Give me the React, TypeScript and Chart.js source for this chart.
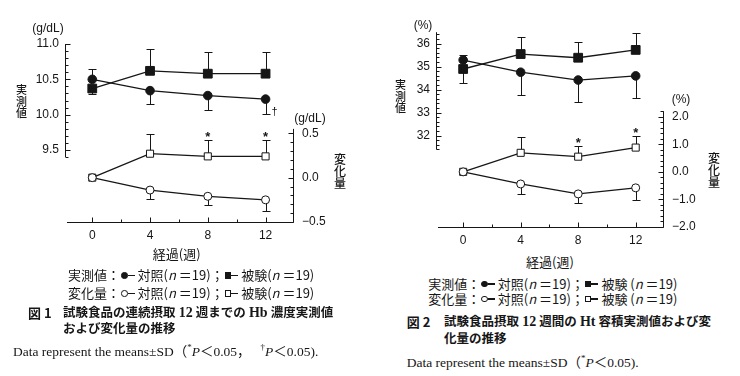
import React, { useEffect, useRef } from 'react';
import { Chart, registerables } from 'chart.js';

Chart.register(...registerables);

// ---------------- data ----------------
const weeks = [0, 4, 8, 12];
const weekTicks = [0, 4, 8, 12];
const weekMinorTicks = [2, 6, 10];

// Fig.1  Hb (g/dL)
const hbControl = [10.5, 10.34, 10.27, 10.22];
const hbControlSD = [0.14, 0.19, 0.21, 0.21];
const hbControlDir = [1, -1, -1, -1];
const hbControlMarks = ['', '', '', '†'];
const hbTest = [10.37, 10.62, 10.58, 10.58];
const hbTestSD = [0.08, 0.31, 0.3, 0.3];
const hbTestDir = [-1, 1, 1, 1];
const hbChgControl = [0, -0.14, -0.21, -0.25];
const hbChgControlSD = [0, 0.1, 0.1, 0.13];
const hbChgControlDir = [-1, -1, -1, -1];
const hbChgTest = [0, 0.27, 0.24, 0.24];
const hbChgTestSD = [0, 0.22, 0.18, 0.18];
const hbChgTestDir = [1, 1, 1, 1];
const hbChgTestMarks = ['', '', '*', '*'];
const hbLeftTicks = [9.5, 10.0, 10.5, 11.0];
const hbRightTicks = [-0.5, 0.0, 0.5];

// Fig.2  Ht (%)
const htControl = [35.29, 34.76, 34.42, 34.6];
const htControlSD = [0.22, 0.99, 0.97, 0.97];
const htControlDir = [1, -1, -1, -1];
const htTest = [34.9, 35.55, 35.39, 35.73];
const htTestSD = [0.62, 0.75, 0.67, 0.72];
const htTestDir = [-1, 1, 1, 1];
const htChgControl = [0, -0.44, -0.8, -0.58];
const htChgControlSD = [0, 0.36, 0.33, 0.43];
const htChgControlDir = [-1, -1, -1, -1];
const htChgTest = [0, 0.69, 0.55, 0.88];
const htChgTestSD = [0, 0.59, 0.38, 0.42];
const htChgTestDir = [1, 1, 1, 1];
const htChgTestMarks = ['', '', '*', '*'];
const htLeftTicks = [32, 33, 34, 35, 36];
const htRightTicks = [-2.0, -1.0, 0.0, 1.0, 2.0];

// ---------------- styles ----------------
const INK = '#161616';
const SANS = "'Liberation Sans', Arial, Helvetica, sans-serif";
const JP = "'Noto Sans CJK JP', 'Noto Sans', sans-serif";
const SERIF = "'Liberation Serif', 'Noto Sans CJK JP', serif";
const CW = 370;
const CH = 250;

type Series = {
  values: number[];
  sd: number[];
  dir: number[];
  axis: 'yL' | 'yR';
  filled: boolean;
  shape: 'circle' | 'rect';
  marks?: string[];
};

type PanelCfg = {
  offset: number;
  areaLeft: number;
  areaRight: number;
  areaTop: number;
  areaBottom: number;
  xMin: number;
  xMax: number;
  yLMin: number;
  yLMax: number;
  yRMin: number;
  yRMax: number;
  leftTicks: number[];
  rightTicks: number[];
  leftDigits: number;
  rightDigits: number;
  leftMinor: [number, number, number];
  leftEnd: number;
  rightMinor: [number, number, number];
  rightEnd: number;
};

const hbSeries: Series[] = [
  { values: hbControl, sd: hbControlSD, dir: hbControlDir, axis: 'yL', filled: true, shape: 'circle', marks: hbControlMarks },
  { values: hbTest, sd: hbTestSD, dir: hbTestDir, axis: 'yL', filled: true, shape: 'rect' },
  { values: hbChgControl, sd: hbChgControlSD, dir: hbChgControlDir, axis: 'yR', filled: false, shape: 'circle' },
  { values: hbChgTest, sd: hbChgTestSD, dir: hbChgTestDir, axis: 'yR', filled: false, shape: 'rect', marks: hbChgTestMarks },
];

const htSeries: Series[] = [
  { values: htControl, sd: htControlSD, dir: htControlDir, axis: 'yL', filled: true, shape: 'circle' },
  { values: htTest, sd: htTestSD, dir: htTestDir, axis: 'yL', filled: true, shape: 'rect' },
  { values: htChgControl, sd: htChgControlSD, dir: htChgControlDir, axis: 'yR', filled: false, shape: 'circle' },
  { values: htChgTest, sd: htChgTestSD, dir: htChgTestDir, axis: 'yR', filled: false, shape: 'rect', marks: htChgTestMarks },
];

const hbCfg: PanelCfg = {
  offset: 0,
  areaLeft: 67,
  areaRight: 293,
  areaTop: 30,
  areaBottom: 222,
  xMin: -1.75,
  xMax: 13.9,
  yLMin: 8.481,
  yLMax: 11.198,
  yRMin: -0.5,
  yRMax: 1.665,
  leftTicks: hbLeftTicks,
  rightTicks: hbRightTicks,
  leftDigits: 1,
  rightDigits: 1,
  leftMinor: [9.4, 11.0, 0.1],
  leftEnd: 11.0,
  rightMinor: [-0.5, 0.5, 0.1],
  rightEnd: 0.55,
};

const htCfg: PanelCfg = {
  offset: 370,
  areaLeft: 68,
  areaRight: 293,
  areaTop: 25,
  areaBottom: 227,
  xMin: -1.75,
  xMax: 13.9,
  yLMin: 28.03,
  yLMax: 36.813,
  yRMin: -2.0,
  yRMax: 5.325,
  leftTicks: htLeftTicks,
  rightTicks: htRightTicks,
  leftDigits: 0,
  rightDigits: 1,
  leftMinor: [31.4, 36.4, 0.2],
  leftEnd: 36.5,
  rightMinor: [-2.0, 2.2, 0.2],
  rightEnd: 2.2,
};

function fmt(v: number, digits: number) {
  const s = Math.abs(v).toFixed(digits);
  return v < -1e-9 ? '\u2212' + s : s;
}

function makeDecor(cfg: PanelCfg) {
  return {
    id: 'decor',
    beforeDatasetsDraw(chart: any) {
      const { ctx, chartArea: a, scales } = chart;
      const xs = scales.x;
      const yL = scales.yL;
      const yR = scales.yR;
      const px = (v: number) => Math.round(v) + 0.5;
      ctx.save();
      ctx.strokeStyle = INK;
      ctx.lineWidth = 1;
      ctx.beginPath();
      // left axis
      const lx = px(a.left - 2);
      ctx.moveTo(lx, yL.getPixelForValue(cfg.leftMinor[0]));
      ctx.lineTo(lx, yL.getPixelForValue(cfg.leftEnd));
      {
        const [f, t, st] = cfg.leftMinor;
        const n = Math.round((t - f) / st);
        for (let k = 0; k <= n; k++) {
          const v = f + k * st;
          const major = cfg.leftTicks.some((m) => Math.abs(m - v) < 1e-6);
          const y = px(yL.getPixelForValue(v));
          ctx.moveTo(lx, y);
          ctx.lineTo(lx + (major ? 5 : 3), y);
        }
      }
      // right axis
      const rx = px(a.right);
      ctx.moveTo(rx, yR.getPixelForValue(cfg.rightMinor[0]) + 0.5);
      ctx.lineTo(rx, yR.getPixelForValue(cfg.rightEnd));
      {
        const [f, t, st] = cfg.rightMinor;
        const n = Math.round((t - f) / st);
        for (let k = 0; k <= n; k++) {
          const v = f + k * st;
          const major = cfg.rightTicks.some((m) => Math.abs(m - v) < 1e-6);
          const y = px(yR.getPixelForValue(v));
          ctx.moveTo(rx, y);
          ctx.lineTo(rx - (major ? 5 : 3), y);
        }
      }
      // x axis
      const by = px(a.bottom);
      ctx.moveTo(a.left, by);
      ctx.lineTo(rx, by);
      weekTicks.forEach((w) => {
        const x = px(xs.getPixelForValue(w));
        ctx.moveTo(x, by);
        ctx.lineTo(x, by - 5);
      });
      weekMinorTicks.forEach((w) => {
        const x = px(xs.getPixelForValue(w));
        ctx.moveTo(x, by);
        ctx.lineTo(x, by - 3);
      });
      ctx.stroke();

      // error bars
      ctx.beginPath();
      chart.data.datasets.forEach((ds: any) => {
        const ys = scales[ds.yAxisID];
        ds.data.forEach((p: any, i: number) => {
          const sd = ds.sd[i];
          if (!sd) return;
          const x = px(xs.getPixelForValue(p.x));
          const y0 = ys.getPixelForValue(p.y);
          const y1 = px(ys.getPixelForValue(p.y + ds.dir[i] * sd));
          ctx.moveTo(x, y0);
          ctx.lineTo(x, y1);
          ctx.moveTo(x - 4, y1);
          ctx.lineTo(x + 4, y1);
        });
      });
      ctx.stroke();
      ctx.restore();
    },
    afterDatasetsDraw(chart: any) {
      const { ctx, scales } = chart;
      const xs = scales.x;
      ctx.save();
      ctx.fillStyle = INK;
      chart.data.datasets.forEach((ds: any) => {
        if (!ds.marks) return;
        const ys = scales[ds.yAxisID];
        ds.data.forEach((p: any, i: number) => {
          const m = ds.marks[i];
          if (!m) return;
          const x = xs.getPixelForValue(p.x);
          const yEnd = ys.getPixelForValue(p.y + ds.dir[i] * ds.sd[i]);
          ctx.textAlign = 'center';
          ctx.textBaseline = 'alphabetic';
          if (m === '*') {
            ctx.font = `bold 13px ${SANS}`;
            ctx.fillText(m, x, yEnd + 1);
          } else {
            ctx.font = `11px ${SANS}`;
            ctx.fillText(m, x + 9, yEnd + 1);
          }
        });
      });
      ctx.restore();
    },
  };
}

function Panel({ cfg, series }: { cfg: PanelCfg; series: Series[] }) {
  const ref = useRef<HTMLCanvasElement>(null);
  useEffect(() => {
    const font = { family: SANS, size: 12 };
    const chart = new Chart(ref.current as HTMLCanvasElement, {
      type: 'line',
      data: {
        datasets: series.map((s) => ({
          data: weeks.map((w, i) => ({ x: w, y: s.values[i] })),
          yAxisID: s.axis,
          borderColor: INK,
          borderWidth: 1.3,
          pointStyle: s.shape,
          pointRadius: s.shape === 'rect' ? (s.filled ? 6.2 : 5) : s.filled ? 4.3 : 4,
          pointBackgroundColor: s.filled ? INK : '#ffffff',
          pointBorderColor: INK,
          pointBorderWidth: 1,
          tension: 0,
          fill: false,
          sd: s.sd,
          dir: s.dir,
          marks: s.marks,
        })) as any,
      },
      options: {
        animation: false,
        responsive: false,
        events: [],
        layout: { padding: { top: cfg.areaTop, left: 0, right: 0, bottom: 0 } },
        plugins: { legend: { display: false }, tooltip: { enabled: false } },
        scales: {
          x: {
            type: 'linear',
            min: cfg.xMin,
            max: cfg.xMax,
            grid: { display: false, drawTicks: false },
            border: { display: false },
            ticks: { font, color: INK, padding: 6, callback: (v: any) => String(v) },
            afterBuildTicks: (s: any) => {
              s.ticks = weekTicks.map((v) => ({ value: v }));
            },
            afterFit: (s: any) => {
              s.height = CH - cfg.areaBottom;
            },
          },
          yL: {
            type: 'linear',
            position: 'left',
            min: cfg.yLMin,
            max: cfg.yLMax,
            grid: { display: false, drawTicks: false },
            border: { display: false },
            ticks: { font, color: INK, padding: 8, callback: (v: any) => fmt(Number(v), cfg.leftDigits) },
            afterBuildTicks: (s: any) => {
              s.ticks = cfg.leftTicks.map((v) => ({ value: v }));
            },
            afterFit: (s: any) => {
              s.width = cfg.areaLeft;
            },
          },
          yR: {
            type: 'linear',
            position: 'right',
            min: cfg.yRMin,
            max: cfg.yRMax,
            grid: { display: false, drawTicks: false },
            border: { display: false },
            ticks: { font, color: INK, padding: 9, callback: (v: any) => fmt(Number(v), cfg.rightDigits) },
            afterBuildTicks: (s: any) => {
              s.ticks = cfg.rightTicks.map((v) => ({ value: v }));
            },
            afterFit: (s: any) => {
              s.width = CW - cfg.areaRight;
            },
          },
        },
      } as any,
      plugins: [makeDecor(cfg)],
    });
    return () => chart.destroy();
  }, []);
  return (
    <canvas
      ref={ref}
      width={CW}
      height={CH}
      style={{ position: 'absolute', left: cfg.offset, top: 0, width: CW, height: CH }}
    />
  );
}

function Txt(props: {
  x: number;
  y: number;
  size: number;
  font: string;
  weight?: number;
  center?: boolean;
  children: any;
  style?: any;
}) {
  const { x, y, size, font, weight = 400, center = false, children, style } = props;
  return (
    <div
      style={{
        position: 'absolute',
        left: x,
        top: y - size * 0.6,
        fontSize: size,
        lineHeight: `${size * 1.2}px`,
        fontFamily: font,
        fontWeight: weight,
        whiteSpace: 'nowrap',
        transform: center ? 'translateX(-50%)' : undefined,
        ...style,
      }}
    >
      {children}
    </div>
  );
}

function VTxt({ x, y, size, pitch, text }: { x: number; y: number; size: number; pitch: number; text: string }) {
  return (
    <div
      style={{
        position: 'absolute',
        left: x - size / 2 - 2,
        top: y - pitch / 2,
        width: size + 4,
        fontSize: size,
        lineHeight: `${pitch}px`,
        fontFamily: JP,
        fontWeight: 500,
        textAlign: 'center',
      }}
    >
      {text.split('').map((c, i) => (
        <div key={i}>{c}</div>
      ))}
    </div>
  );
}

function Mk({ shape, filled }: { shape: 'circle' | 'rect'; filled: boolean }) {
  return (
    <span style={{ display: 'inline-flex', alignItems: 'center', verticalAlign: 'middle', margin: '0 3px 2px 1px' }}>
      <span
        style={{
          display: 'inline-block',
          width: 6.5,
          height: 6.5,
          boxSizing: 'border-box',
          borderRadius: shape === 'circle' ? '50%' : 0,
          border: `1px solid ${INK}`,
          background: filled ? INK : '#fff',
        }}
      />
      <span style={{ display: 'inline-block', width: 7, height: 1.3, background: INK }} />
    </span>
  );
}

const N = () => (
  <>
    (<i>n</i> ＝19)
  </>
);

const B = ({ children }: { children: any }) => <span style={{ fontSize: 14 }}>{children}</span>;

export default function App() {
  return (
    <div
      style={{
        position: 'fixed',
        left: 0,
        top: 0,
        width: 740,
        height: 376,
        background: '#fff',
        overflow: 'hidden',
        color: INK,
      }}
    >
      <Panel cfg={hbCfg} series={hbSeries} />
      <Panel cfg={htCfg} series={htSeries} />

      {/* Panel 1 labels */}
      <Txt x={48} y={28} size={12} font={SANS} center>(g/dL)</Txt>
      <VTxt x={21.5} y={90} size={11} pitch={11.5} text="実測値" />
      <Txt x={310} y={118} size={12} font={SANS} center>(g/dL)</Txt>
      <VTxt x={340} y={159} size={12} pitch={12} text="変化量" />
      <Txt x={176.7} y={253.3} size={13} font={JP} center>経過(週)</Txt>
      <Txt x={68} y={275} size={13} font={JP}>
        実測値：<Mk shape="circle" filled />対照<N />；<Mk shape="rect" filled />被験<N />
      </Txt>
      <Txt x={68} y={293} size={13} font={JP}>
        変化量：<Mk shape="circle" filled={false} />対照<N />；<Mk shape="rect" filled={false} />被験<N />
      </Txt>
      <Txt x={28} y={312.7} size={13} font={JP} weight={700}>図 1</Txt>
      <Txt x={63} y={312.7} size={12.5} font={SERIF} weight={700}>
        試験食品の連続摂取 <B>12</B> 週までの <B>Hb</B> 濃度実測値
      </Txt>
      <Txt x={63} y={329.3} size={12.5} font={SERIF} weight={700}>
        および変化量の推移
      </Txt>
      <Txt x={13} y={347.3} size={13.5} font={SERIF}>
        Data represent the means±SD（<sup style={{ fontSize: 9 }}>*</sup>
        <i>P</i>＜0.05，<sup style={{ fontSize: 9, marginLeft: 10 }}>†</sup>
        <i>P</i>＜0.05).
      </Txt>

      {/* Panel 2 labels */}
      <Txt x={423} y={25.5} size={12} font={SANS} center>(%)</Txt>
      <VTxt x={400.5} y={85} size={11} pitch={11.5} text="実測値" />
      <Txt x={681} y={99.5} size={12} font={SANS} center>(%)</Txt>
      <VTxt x={714} y={157.5} size={12} pitch={12} text="変化量" />
      <Txt x={550} y={261.7} size={13} font={JP} center>経過(週)</Txt>
      <Txt x={428.3} y={283.3} size={13} font={JP}>
        実測値：<Mk shape="circle" filled />対照<N />；<Mk shape="rect" filled />被験 <N />
      </Txt>
      <Txt x={428.3} y={298.3} size={13} font={JP}>
        変化量：<Mk shape="circle" filled={false} />対照<N />；<Mk shape="rect" filled={false} />被験 <N />
      </Txt>
      <Txt x={406.7} y={321.7} size={13} font={JP} weight={700}>図 2</Txt>
      <Txt x={444} y={321.7} size={12.5} font={SERIF} weight={700}>
        試験食品摂取 <B>12</B> 週間の <B>Ht</B> 容積実測値および変
      </Txt>
      <Txt x={444} y={339.3} size={12.5} font={SERIF} weight={700}>
        化量の推移
      </Txt>
      <Txt x={406.7} y={358.3} size={13.5} font={SERIF}>
        Data represent the means±SD（<sup style={{ fontSize: 9 }}>*</sup>
        <i>P</i>＜0.05).
      </Txt>
    </div>
  );
}
